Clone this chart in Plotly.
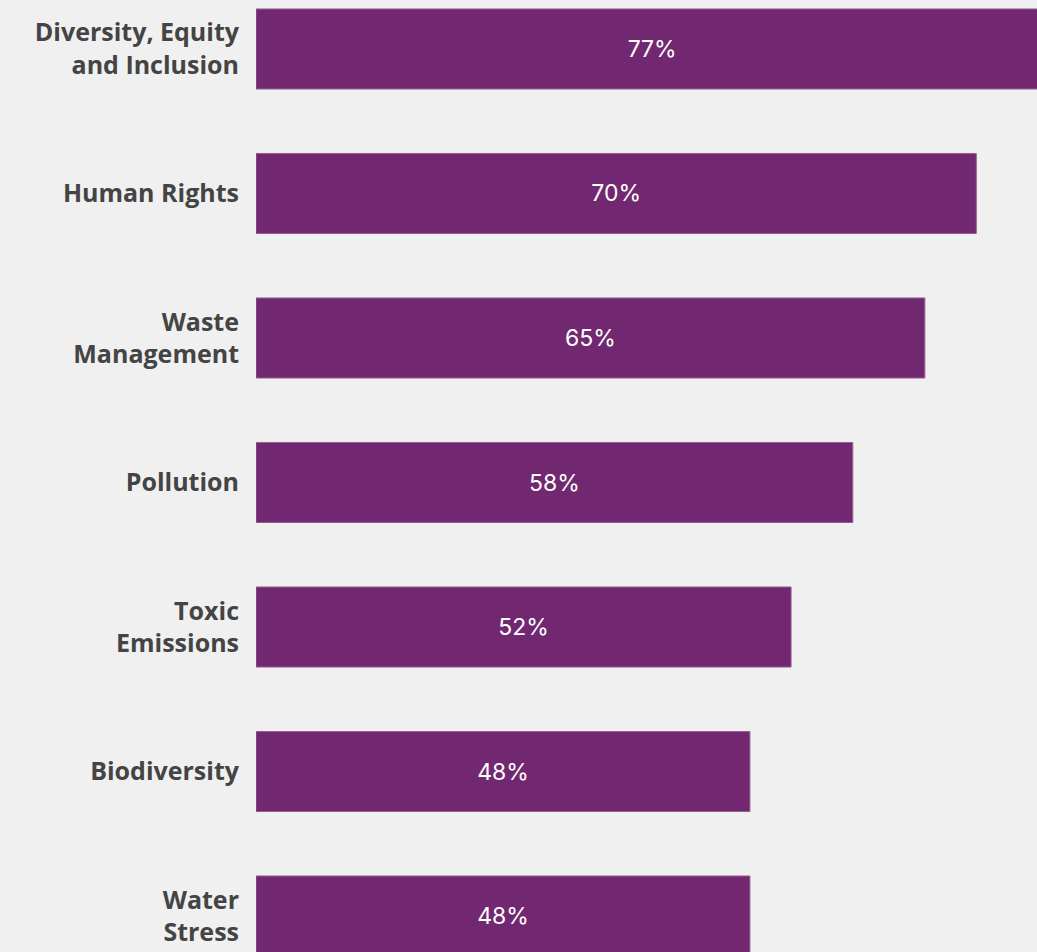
import plotly.graph_objects as go

categories = ["Diversity, Equity<br>and Inclusion", "Human Rights", "Waste<br>Management",
              "Pollution", "Toxic<br>Emissions", "Biodiversity", "Water<br>Stress"]
values = [77, 70, 65, 58, 52, 48, 48]
labels = [f"{v}%" for v in values]

BG = "#f0f0f0"
BAR = "#722870"

fig = go.Figure(go.Bar(
    x=values, y=categories, orientation="h",
    marker=dict(color=BAR, line=dict(color="#94608f", width=1)),
    width=0.554,
    text=labels, textposition="inside", insidetextanchor="middle",
    textfont=dict(family="Inter", size=23, color="white"),
    cliponaxis=True,
))

fig.update_layout(
    width=1037, height=952,
    margin=dict(l=256, r=0, t=0, b=0),
    paper_bgcolor=BG, plot_bgcolor=BG,
    showlegend=False,
    xaxis=dict(range=[0, 75.9], visible=False, fixedrange=True),
    yaxis=dict(range=[6.249, -0.339], showgrid=False, zeroline=False, showline=False,
               ticks="", ticklabelstandoff=16,
               tickfont=dict(family="Open Sans", size=25, color="#444444", weight="bold")),
)

fig.write_html("out.html")
